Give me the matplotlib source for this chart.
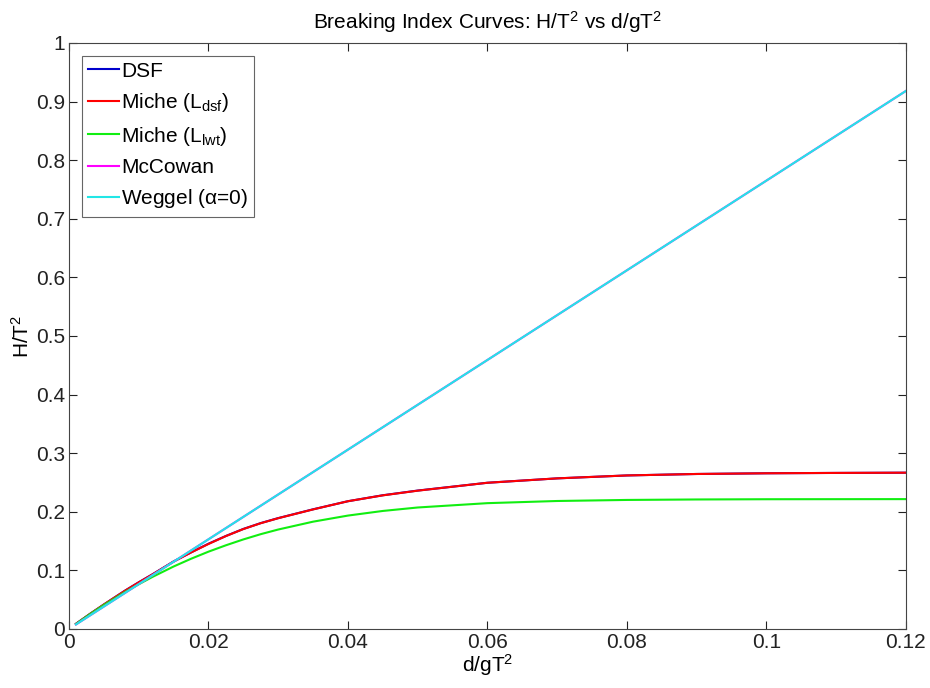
import numpy as np
import matplotlib
matplotlib.use("Agg")
import matplotlib.pyplot as plt

plt.rcParams['font.family'] = ['Liberation Sans', 'DejaVu Sans']
plt.rcParams['mathtext.fontset'] = 'custom'
plt.rcParams['mathtext.rm'] = 'Liberation Sans'
plt.rcParams['mathtext.it'] = 'Liberation Sans'

# d/gT^2 sample points
x_curve = [0.001, 0.003, 0.005, 0.008, 0.01, 0.012, 0.015, 0.0175, 0.02, 0.0225, 0.025,
           0.0275, 0.03, 0.035, 0.04, 0.045, 0.05, 0.06, 0.07, 0.08, 0.09, 0.1, 0.11, 0.12]
# H/T^2
dsf = [0.0088, 0.0257, 0.0418, 0.0652, 0.0797, 0.0935, 0.1152, 0.1307, 0.1455, 0.1587, 0.1707,
       0.1807, 0.1892, 0.2042, 0.2180, 0.2282, 0.2362, 0.2495, 0.2570, 0.2620, 0.2645, 0.2657,
       0.2663, 0.2667]
miche_dsf = [0.0088, 0.0256, 0.0418, 0.0650, 0.0795, 0.0933, 0.1150, 0.1305, 0.1450, 0.1585,
             0.1705, 0.1805, 0.1890, 0.2040, 0.2180, 0.2280, 0.2360, 0.2495, 0.2570, 0.2620,
             0.2645, 0.2657, 0.2663, 0.2667]
miche_lwt = [0.0086, 0.0252, 0.0409, 0.0629, 0.0763, 0.0890, 0.1066, 0.1198, 0.1319, 0.1428,
             0.1528, 0.1618, 0.1697, 0.1831, 0.1935, 0.2014, 0.2073, 0.2147, 0.2184, 0.2202,
             0.2210, 0.2214, 0.2215, 0.2216]

x_line = [0.001, 0.02, 0.04, 0.06, 0.08, 0.1, 0.12]
mccowan = [0.0077, 0.153, 0.306, 0.459, 0.612, 0.765, 0.918]
weggel = [0.0077, 0.153, 0.306, 0.459, 0.612, 0.765, 0.918]

fig = plt.figure(figsize=(9.3, 6.88), dpi=100)
ax = fig.add_axes([0.0742, 0.0858, 0.8997, 0.8517])

ax.plot(x_curve, dsf, color='#0000cc', lw=1.5, label='DSF')
ax.plot(x_curve, miche_dsf, color='#ff0000', lw=1.5, label='Miche (L$_{\\mathrm{dsf}}$)')
ax.plot(x_curve, miche_lwt, color='#11ee11', lw=1.5, label='Miche (L$_{\\mathrm{lwt}}$)')
ax.plot(x_line, mccowan, color='#ff00ff', lw=1.5, label='McCowan')
ax.plot(x_line, weggel, color='#22e6e6', lw=1.5, label='Weggel ($\\alpha$=0)')

ax.set_xlim(0, 0.12)
ax.set_ylim(0, 1)
ax.set_xticks([0, 0.02, 0.04, 0.06, 0.08, 0.1, 0.12])
ax.set_xticklabels(['0', '0.02', '0.04', '0.06', '0.08', '0.1', '0.12'])
ax.set_yticks(np.arange(0, 1.01, 0.1))
ax.set_yticklabels(['0', '0.1', '0.2', '0.3', '0.4', '0.5', '0.6', '0.7', '0.8', '0.9', '1'])
ax.tick_params(direction='in', length=6, width=0.8, top=True, right=True,
               labelsize=15, pad=3, colors='#222222')
for s in ax.spines.values():
    s.set_color('#444444')
    s.set_linewidth(0.8)

ax.set_xlabel('d/gT$^2$', fontsize=15, labelpad=0)
ax.set_ylabel('H/T$^2$', fontsize=15, labelpad=2)
ax.set_title('Breaking Index Curves: H/T$^2$ vs d/gT$^2$', fontsize=15, pad=10)

leg = ax.legend(loc='upper left', fontsize=15, handlelength=1.5, handletextpad=0.1,
                borderpad=0.3, labelspacing=0.5, fancybox=False, framealpha=1,
                borderaxespad=0.6)
leg.get_frame().set_edgecolor('#666666')
leg.get_frame().set_linewidth(0.8)

fig.savefig('out.png', dpi=100)
